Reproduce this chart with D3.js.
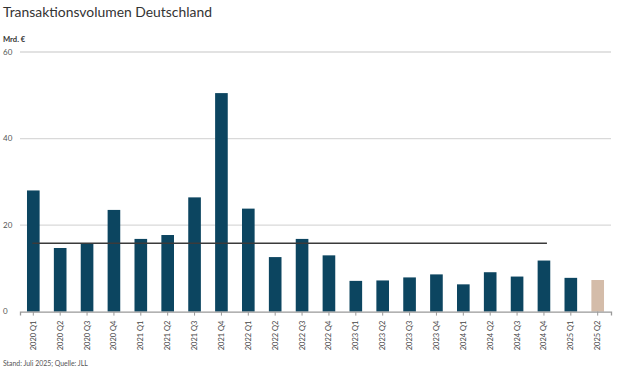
<!DOCTYPE html>
<html>
<head>
<meta charset="utf-8">
<script src="https://cdn.jsdelivr.net/npm/d3@7"></script>
<style>
  html, body { margin: 0; padding: 0; background: #fff; }
  svg { display: block; }
  text { font-family: Lato, "Open Sans", sans-serif; }
</style>
</head>
<body>
<svg id="chart" width="622" height="374"></svg>
<script>
const categories = ["2020 Q1","2020 Q2","2020 Q3","2020 Q4","2021 Q1","2021 Q2","2021 Q3","2021 Q4",
  "2022 Q1","2022 Q2","2022 Q3","2022 Q4","2023 Q1","2023 Q2","2023 Q3","2023 Q4",
  "2024 Q1","2024 Q2","2024 Q3","2024 Q4","2025 Q1","2025 Q2"];
const volumes = [28.0,14.7,15.8,23.5,16.8,17.7,26.4,50.5,23.8,12.6,16.8,13.0,7.1,7.2,7.9,8.6,6.3,9.1,8.1,11.8,7.8,7.3];
const averageValue = 15.8;
const averageFrom = "2020 Q1";
const averageTo = "2024 Q4";
const highlightCategory = "2025 Q2";
const yTicks = [0,20,40,60];
const title = "Transaktionsvolumen Deutschland";
const unitLabel = "Mrd. €";
const footnote = "Stand: Juli 2025; Quelle: JLL";

const svg = d3.select("#chart");
const mLeft = 20, mRight = 611, mTop = 52, mBottom = 311.6;

const x = d3.scaleBand().domain(categories).range([mLeft, mRight]).paddingInner(0.53).paddingOuter(0.26);
const y = d3.scaleLinear().domain([0, 60]).range([mBottom, mTop]);

svg.append("text").attr("x", 3).attr("y", 16.5).attr("font-size", 13.9).attr("fill", "#333").text(title);
svg.append("text").attr("x", 3).attr("y", 42).attr("font-size", 7.6).attr("font-weight", "bold").attr("fill", "#333").text(unitLabel);

// gridlines
svg.append("g").selectAll("line").data(yTicks.filter(d => d > 0)).join("line")
  .attr("x1", mLeft).attr("x2", mRight)
  .attr("y1", d => y(d)).attr("y2", d => y(d))
  .attr("stroke", "#d9d9d9").attr("stroke-width", 1.3);

// y labels
svg.append("g").selectAll("text").data(yTicks).join("text")
  .attr("x", 3).attr("y", d => y(d) + 2.5)
  .attr("font-size", 8).attr("fill", "#555").text(d => d);

// bars
svg.append("g").selectAll("rect").data(categories).join("rect")
  .attr("x", d => x(d)).attr("width", x.bandwidth())
  .attr("y", (d, i) => y(volumes[i])).attr("height", (d, i) => y(0) - y(volumes[i]))
  .attr("fill", d => d === highlightCategory ? "#d4bca9" : "#0c4560");

// baseline axis
const xAxis = d3.axisBottom(x).tickSize(4).tickFormat("");
const gx = svg.append("g").attr("transform", `translate(0,${mBottom})`).call(xAxis);
gx.select(".domain").attr("stroke", "#999").attr("stroke-width", 1.3);
gx.selectAll(".tick line").attr("stroke", "#999");

// rotated x labels
svg.append("g").selectAll("text").data(categories).join("text")
  .attr("transform", d => `translate(${x(d) + x.bandwidth() / 2 + 2.5},${mBottom + 9}) rotate(-90)`)
  .attr("text-anchor", "end").attr("font-size", 7.5).attr("fill", "#444").text(d => d);

// average line
svg.append("line")
  .attr("x1", x(averageFrom) + x.bandwidth() / 2 - 1)
  .attr("x2", x(averageTo) + x.bandwidth() / 2 + 3)
  .attr("y1", y(averageValue)).attr("y2", y(averageValue))
  .attr("stroke", "#3a3a3a").attr("stroke-width", 1.4);

svg.append("text").attr("x", 3).attr("y", 366).attr("font-size", 6.9).attr("fill", "#555").text(footnote);
</script>
</body>
</html>
